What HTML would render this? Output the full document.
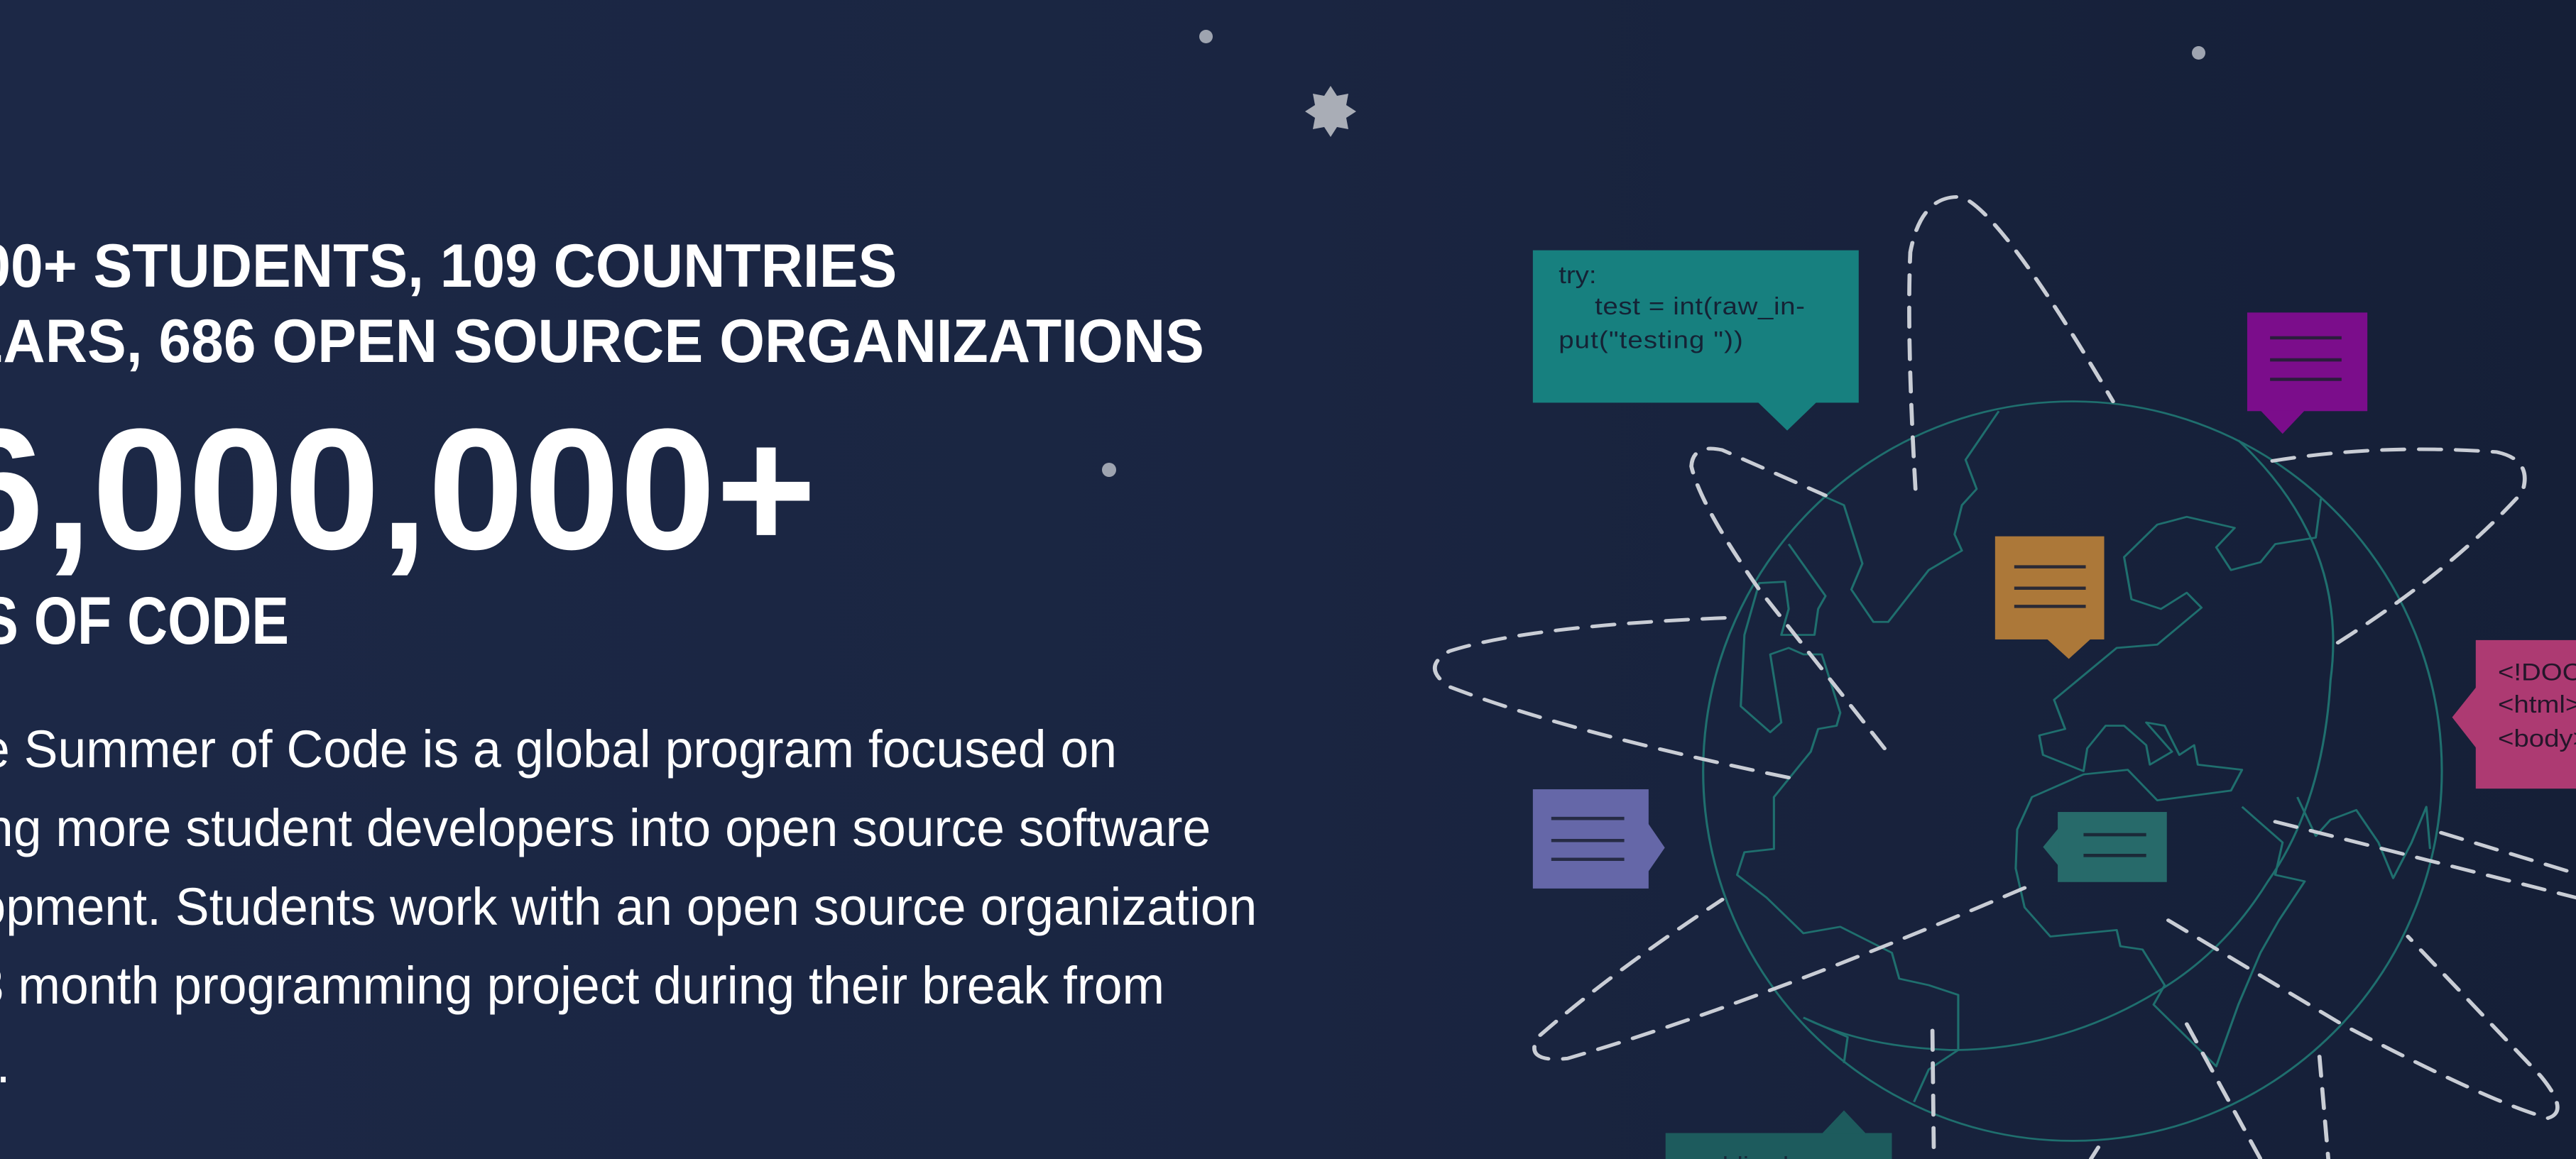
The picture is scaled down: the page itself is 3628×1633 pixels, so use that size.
<!DOCTYPE html>
<html><head><meta charset="utf-8"><style>
html,body{margin:0;padding:0}
body{width:3628px;height:1633px;position:relative;overflow:hidden;background:linear-gradient(90deg,#1c2846 0%,#1a2541 50%,#151f37 100%);font-family:"Liberation Sans",sans-serif;color:#fff}
#wrap{position:absolute;left:0;top:0;width:3628px;height:1633px;overflow:hidden}
.t{position:absolute;white-space:nowrap;line-height:1;transform-origin:100% 0;transform:scaleX(.955)}
.h{font-weight:bold}
.dot{position:absolute;border-radius:50%;background:#9ea4b0}
</style></head><body><div id="wrap">
<div class="t h" style="right:2365px;top:332px;font-size:86px">14,000+ STUDENTS, 109 COUNTRIES</div>
<div class="t h" style="right:1932px;top:438px;font-size:86px">13 YEARS, 686 OPEN SOURCE ORGANIZATIONS</div>
<div class="t h" style="right:2478px;top:568px;font-size:243px;transform:scaleX(1)">26,000,000+</div>
<div class="t h" style="right:3221px;top:828px;font-size:95px;transform:scaleX(.83)">LINES OF CODE</div>
<div class="t" style="right:2055px;top:1019px;font-size:74px;transform:scaleX(.967)">Google Summer of Code is a global program focused on</div>
<div class="t" style="right:1923px;top:1130px;font-size:74px;transform:scaleX(.967)">bringing more student developers into open source software</div>
<div class="t" style="right:1858px;top:1241px;font-size:74px;transform:scaleX(.967)">development. Students work with an open source organization</div>
<div class="t" style="right:1988px;top:1352px;font-size:74px;transform:scaleX(.967)">on a 3 month programming project during their break from</div>
<div class="t" style="right:3614px;top:1463px;font-size:74px;transform:scaleX(.967)">school.</div>

<div class="dot" style="left:1689px;top:42px;width:19px;height:19px"></div>
<div class="dot" style="left:3087px;top:65px;width:19px;height:19px"></div>
<div class="dot" style="left:1552px;top:652px;width:20px;height:20px"></div>
<svg style="position:absolute;left:1834px;top:117px" width="80" height="80" viewBox="-40 -40 80 80">
<polygon fill="#a9adb6" points="0,-36 9,-22 25,-25 22,-9 36,0 22,9 25,25 9,22 0,36 -9,22 -25,25 -22,9 -36,0 -22,-9 -25,-25 -9,-22"/>
</svg>

<svg style="position:absolute;left:2000px;top:200px;overflow:hidden" width="1628" height="1433" viewBox="0 0 1568 1568" preserveAspectRatio="none">
<g fill="none" stroke="#1f6f6e" stroke-width="3" stroke-linejoin="round">
<ellipse cx="885" cy="970" rx="501" ry="570"/>
<path d="M1110,460 Q1260,620 1235,830 Q1225,1020 1150,1140 Q1090,1250 1000,1310 Q870,1400 720,1400 Q600,1395 520,1350"/>
<path d="M785,415 L740,490 L755,535 L735,560 L725,605 L735,630 L690,660 L635,740 L615,740 L585,690 L600,650 L575,560 L545,545"/>
<path d="M500,620 L550,700 L540,720 L535,760 L490,760 L500,720 L495,678 L460,680 L440,760 L435,870 L475,910 L490,895 L475,790 L500,780 L520,790 L545,790 L570,880 L565,900 L540,905 L530,940 L480,1010 L480,1090 L440,1095 L430,1130 L470,1165 L520,1220 L570,1210 L640,1250 L650,1290 L690,1300 L730,1315 L730,1400 L690,1430 L670,1480"/>
<path d="M520,1350 L580,1380 L575,1420"/>
<path d="M1222,550 L1215,610 L1160,620 L1140,648 L1100,660 L1080,625 L1105,595 L1040,578 L1000,590 L955,640 L965,705 L1005,720 L1040,695 L1060,718 L1000,775 L945,780 L860,860 L875,905 L840,915 L845,945 L900,970 L905,935 L930,900 L955,900 L985,930 L990,960 L1020,940 L985,895 L1010,900 L1030,945 L1050,930 L1055,960 L1115,968 L1100,1000 L1000,1015 L960,968 L900,975 L830,1010 L810,1060 L808,1120 L820,1180 L855,1225 L945,1215 L950,1240 L980,1245 L1010,1300 L995,1330 L1080,1425 L1110,1330 L1140,1250 L1165,1200 L1200,1140 L1160,1130 L1170,1080 L1115,1025"/>
<path d="M1190,1010 L1215,1070 L1235,1045 L1270,1030 L1300,1080 L1320,1135 L1345,1080 L1365,1025 L1370,1090"/>
</g>
<g fill="none" stroke="#c9cdd5" stroke-width="5.5" stroke-dasharray="30 20" stroke-linecap="round">
<path d="M630,935 L460,690 Q380,560 368,500 Q370,465 410,475 L550,545"/>
<path d="M500,980 Q200,910 40,840 Q0,810 40,785 Q150,745 430,733"/>
<path d="M672,535 Q660,300 665,170 Q680,80 735,85 Q790,110 940,400"/>
<path d="M1245,772 Q1400,660 1495,540 Q1510,490 1460,478 Q1300,465 1155,492"/>
<path d="M820,1150 Q450,1330 200,1413 Q140,1420 160,1380 Q260,1280 410,1168"/>
<path d="M1015,1200 L1250,1360 Q1450,1480 1530,1505 Q1560,1495 1520,1440 L1340,1225"/>
<path d="M1160,1048 L1568,1165"/>
<path d="M1385,1065 L1568,1128"/>
<path d="M695,1370 L697,1568"/>
<path d="M1220,1410 L1232,1568"/>
<path d="M1040,1360 L1140,1568"/>
<path d="M920,1550 L910,1568"/>
</g>
<rect x="153" y="167" width="442" height="235" fill="#17807f"/>
<polygon points="458,401 538,401 498,445" fill="#17807f"/>
<g font-family="Liberation Sans,sans-serif" font-size="37" fill="#152235">
<text x="188" y="218">try:</text>
<text x="237" y="266" textLength="285">test = int(raw_in-</text>
<text x="188" y="318" textLength="250">put("testing "))</text>
</g>
<rect x="1122" y="263" width="163" height="152" fill="#7b0d8b"/>
<polygon points="1140,414 1200,414 1170,450" fill="#7b0d8b"/>
<g stroke="#2b1d3c" stroke-width="5"><line x1="1153" y1="302" x2="1250" y2="302"/><line x1="1153" y1="336" x2="1250" y2="336"/><line x1="1153" y1="366" x2="1250" y2="366"/></g>
<rect x="780" y="608" width="148" height="159" fill="#ac7839"/>
<polygon points="850,766 910,766 880,797" fill="#ac7839"/>
<g stroke="#2b2a35" stroke-width="5"><line x1="806" y1="655" x2="903" y2="655"/><line x1="806" y1="688" x2="903" y2="688"/><line x1="806" y1="716" x2="903" y2="716"/></g>
<rect x="1432" y="768" width="140" height="229" fill="#ad3a72"/>
<polygon points="1433,840 1400,887 1433,935" fill="#ad3a72"/>
<g font-family="Liberation Sans,sans-serif" font-size="37" fill="#24162a">
<text x="1462" y="830">&lt;!DOCTYPE</text>
<text x="1462" y="880">&lt;html&gt;</text>
<text x="1462" y="932">&lt;body&gt;</text>
</g>
<rect x="153" y="998" width="157" height="153" fill="#6567a8"/>
<polygon points="309,1050 332,1088 309,1126" fill="#6567a8"/>
<g stroke="#262b45" stroke-width="5"><line x1="178" y1="1043" x2="277" y2="1043"/><line x1="178" y1="1077" x2="277" y2="1077"/><line x1="178" y1="1106" x2="277" y2="1106"/></g>
<rect x="865" y="1033" width="148" height="108" fill="#276a6a"/>
<polygon points="866,1058 845,1087 866,1116" fill="#276a6a"/>
<g stroke="#1b2a38" stroke-width="5"><line x1="900" y1="1068" x2="985" y2="1068"/><line x1="900" y1="1100" x2="985" y2="1100"/></g>
<rect x="333" y="1528" width="307" height="60" fill="#1d5b5d"/>
<polygon points="545,1529 575,1493 605,1529" fill="#1d5b5d"/>
<text x="370" y="1590" font-family="Liberation Sans,sans-serif" font-size="36" fill="#16283a">public class</text>
</svg>
</div></body></html>
